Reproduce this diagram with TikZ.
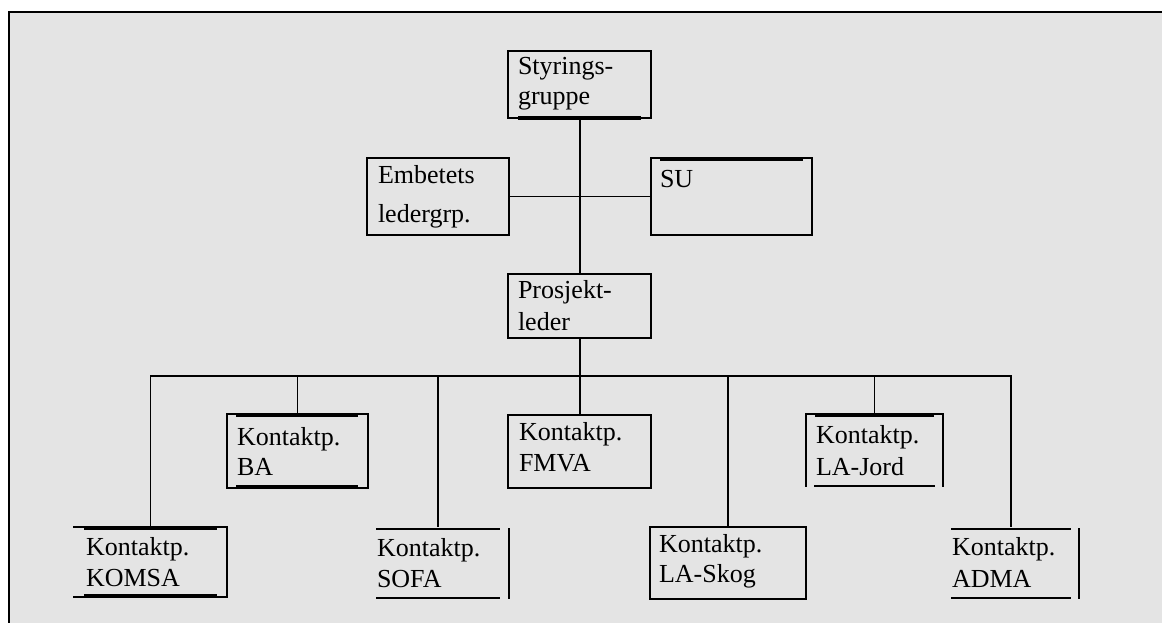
\documentclass[tikz,border=0pt]{standalone}
\usepackage{fontspec}
\setmainfont{Liberation Serif}
\begin{document}
\begin{tikzpicture}[x=1pt,y=-1pt,
  every node/.style={inner sep=0pt,outer sep=0pt},
  ln/.style={line width=1.7pt,line cap=rect},
  thk/.style={line width=3.2pt},
  box/.style={draw=none,anchor=north west},
  txt/.style={anchor=base west,font=\fontsize{26}{31}\selectfont}]
\useasboundingbox (0,0) rectangle (1162,623);
\fill[white] (0,0) rectangle (1162,623);
\fill[fill={rgb,255:red,228;green,228;blue,228}] (9,12) rectangle (1162,623);
\draw[line width=1.8pt] (9,623) -- (9,12) -- (1162,12);

% box nodes
\node[box,minimum width=143pt,minimum height=67pt] (styr) at (508,51) {};
\node[box,minimum width=142pt,minimum height=77pt] (emb) at (367,158) {};
\node[box,minimum width=161pt,minimum height=77pt] (su) at (651,158) {};
\node[box,minimum width=143pt,minimum height=64pt] (pro) at (508,274) {};
\node[box,minimum width=141pt,minimum height=74pt] (ba) at (227,414) {};
\node[box,minimum width=143pt,minimum height=73pt] (fmva) at (508,415) {};
\node[box,minimum width=137pt,minimum height=72pt] (jord) at (806,414) {};
\node[box,minimum width=153pt,minimum height=70pt] (komsa) at (74,527) {};
\node[box,minimum width=132pt,minimum height=69pt] (sofa) at (377,529) {};
\node[box,minimum width=156pt,minimum height=72pt] (skog) at (650,527) {};
\node[box,minimum width=127pt,minimum height=69pt] (adma) at (952,529) {};

% full boxes
\foreach \b in {styr,emb,su,pro,ba,fmva,skog}
  \draw[ln] (\b.north west) rectangle (\b.south east);
% thick inner segments
\draw[thk] ([xshift=10pt]styr.south west) -- ([xshift=-10pt]styr.south east);
\draw[thk] ([xshift=9pt,yshift=-1pt]su.north west) -- ([xshift=-9pt,yshift=-1pt]su.north east);
\draw[thk] ([xshift=9pt,yshift=-1pt]ba.north west) -- ([xshift=-10pt,yshift=-1pt]ba.north east);
\draw[thk] ([xshift=9pt,yshift=1pt]ba.south west) -- ([xshift=-10pt,yshift=1pt]ba.south east);
% partial boxes
\draw[ln] (jord.south west) -- (jord.north west) -- (jord.north east) -- (jord.south east);
\draw[thk] ([xshift=9pt,yshift=-1pt]jord.north west) -- ([xshift=-9pt,yshift=-1pt]jord.north east);
\draw[ln] ([xshift=9pt]jord.south west) -- ([xshift=-9pt]jord.south east);
\draw[ln] (komsa.north west) -- (komsa.north east) -- (komsa.south east) -- (komsa.south west);
\draw[thk] ([xshift=10pt,yshift=-1pt]komsa.north west) -- ([xshift=-10pt,yshift=-1pt]komsa.north east);
\draw[thk] ([xshift=10pt,yshift=1pt]komsa.south west) -- ([xshift=-10pt,yshift=1pt]komsa.south east);
\draw[ln] (sofa.north west) -- ([xshift=-10pt]sofa.north east);
\draw[ln] (sofa.south west) -- ([xshift=-10pt]sofa.south east);
\draw[ln] (sofa.north east) -- (sofa.south east);
\draw[ln] (adma.north west) -- ([xshift=-9pt]adma.north east);
\draw[ln] (adma.south west) -- ([xshift=-9pt]adma.south east);
\draw[ln] (adma.north east) -- (adma.south east);

% texts
\node[txt] (t1) at (518,75) {Styrings-};
\node[txt] (t2) at (518,105) {gruppe};
\node[txt] (t3) at (378,183) {Embetets};
\node[txt] (t4) at (378,222) {ledergrp.};
\node[txt] (t5) at (660,187) {SU};
\node[txt] (t6) at (518,298) {Prosjekt-};
\node[txt] (t7) at (518,330) {leder};
\node[txt] (t8) at (237,445) {Kontaktp.};
\node[txt] (t9) at (237,475) {BA};
\node[txt] (t10) at (519,440) {Kontaktp.};
\node[txt] (t11) at (519,471) {FMVA};
\node[txt] (t12) at (816,443) {Kontaktp.};
\node[txt] (t13) at (816,475) {LA-Jord};
\node[txt] (t14) at (86,555) {Kontaktp.};
\node[txt] (t15) at (86,586) {KOMSA};
\node[txt] (t16) at (377,556) {Kontaktp.};
\node[txt] (t17) at (377,587) {SOFA};
\node[txt] (t18) at (659,552) {Kontaktp.};
\node[txt] (t19) at (659,582) {LA-Skog};
\node[txt] (t20) at (952,555) {Kontaktp.};
\node[txt] (t21) at (952,587) {ADMA};

% connectors
\coordinate (bus) at (580,376);
\coordinate (sofadrop) at (438,526);
\coordinate (admadrop) at (1011,526);
\draw[ln] (styr.south -| bus) -- (pro.north -| bus);
\draw[ln] (emb.east) -- (su.west);
\draw[ln] (pro.south -| bus) -- (bus);
\draw[ln] (komsa.north |- bus) -- (admadrop |- bus);
\draw[ln] (komsa.north) -- (komsa.north |- bus);
\draw[ln] (ba.north) -- (ba.north |- bus);
\draw[ln] (sofadrop) -- (sofadrop |- bus);
\draw[ln] (fmva.north -| bus) -- (bus);
\draw[ln] (skog.north) -- (skog.north |- bus);
\draw[ln] (jord.north) -- (jord.north |- bus);
\draw[ln] (admadrop) -- (admadrop |- bus);
\end{tikzpicture}
\end{document}
